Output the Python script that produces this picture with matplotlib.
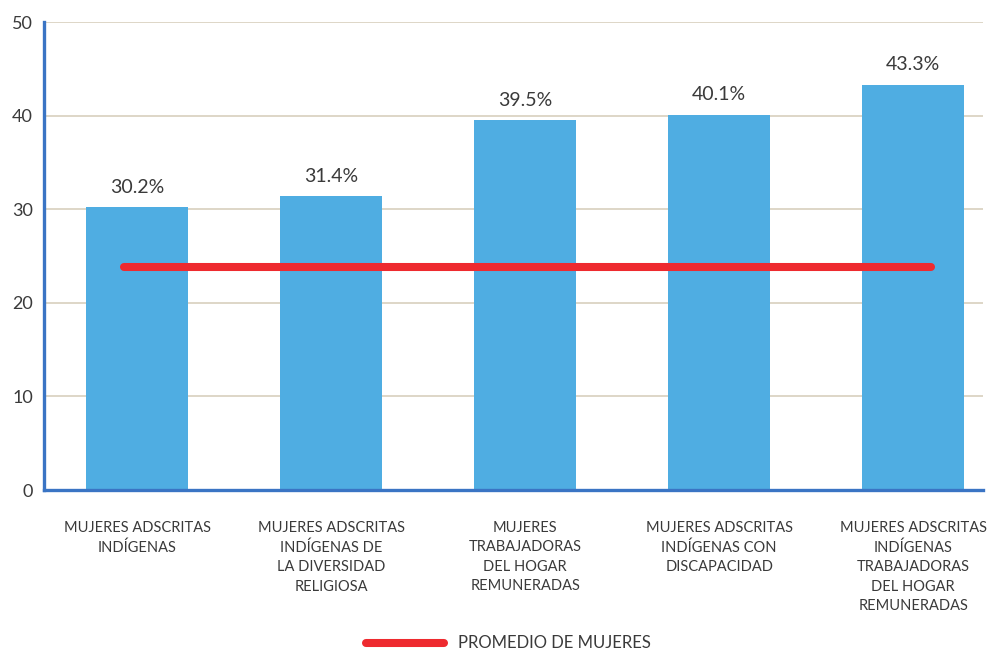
import matplotlib.pyplot as plt
import numpy as np

# data
categories = [
    "MUJERES ADSCRITAS\nINDÍGENAS",
    "MUJERES ADSCRITAS\nINDÍGENAS DE\nLA DIVERSIDAD\nRELIGIOSA",
    "MUJERES\nTRABAJADORAS\nDEL HOGAR\nREMUNERADAS",
    "MUJERES ADSCRITAS\nINDÍGENAS CON\nDISCAPACIDAD",
    "MUJERES ADSCRITAS\nINDÍGENAS\nTRABAJADORAS\nDEL HOGAR\nREMUNERADAS",
]
values = [30.2, 31.4, 39.5, 40.1, 43.3]
promedio = 23.8
promedio_label = "PROMEDIO DE MUJERES"
y_ticks = [0, 10, 20, 30, 40, 50]

bar_color = "#4FADE2"
red = "#EE2A2F"
spine_color = "#3A74C4"
grid_color = "#D8CFBE"
text_color = "#3A3A3A"

plt.rcParams['font.family'] = ['Lato', 'DejaVu Sans']

fig = plt.figure(figsize=(9.96, 6.53), dpi=100)
ax = fig.add_axes([0.0442, 0.2496, 0.9428, 0.7167])

x = np.arange(len(categories))
ax.bar(x, values, width=0.525, color=bar_color, zorder=2)

for xi, v in zip(x, values):
    ax.text(xi, v + 1.2, f"{v:.1f}%", ha='center', va='bottom',
            fontsize=14, color=text_color)

# average line
ax.plot([-0.07, 4.09], [promedio, promedio], color=red, linewidth=5.8,
        solid_capstyle='round', zorder=3)

ax.set_xlim(-0.48, 4.36)
ax.set_ylim(0, 50)
ax.set_yticks(y_ticks)
ax.set_yticklabels([str(t) for t in y_ticks], fontsize=13, color=text_color)
ax.set_xticks(x)
ax.set_xticklabels(categories, fontsize=10.5, color=text_color, linespacing=1.5)
ax.tick_params(axis='both', length=0)
ax.tick_params(axis='x', pad=22)
ax.tick_params(axis='y', pad=8)

for yv in y_ticks[1:]:
    ax.axhline(yv, color=grid_color, linewidth=1.2, zorder=1)

for s in ['top', 'right']:
    ax.spines[s].set_visible(False)
ax.spines['left'].set_color(spine_color)
ax.spines['bottom'].set_color(spine_color)
ax.spines['left'].set_linewidth(2.4)
ax.spines['bottom'].set_linewidth(2.4)
ax.spines['left'].set_zorder(4)
ax.spines['bottom'].set_zorder(4)

# legend drawn by hand below the chart
fig.add_artist(plt.Line2D([366 / 996, 444 / 996], [1 - 643 / 653, 1 - 643 / 653],
                          color=red, linewidth=5.8, solid_capstyle='round',
                          transform=fig.transFigure))
fig.text(458 / 996, 1 - 643 / 653, promedio_label, fontsize=12, color=text_color,
         va='center', ha='left')

fig.savefig("out.png", dpi=100, facecolor='white')
